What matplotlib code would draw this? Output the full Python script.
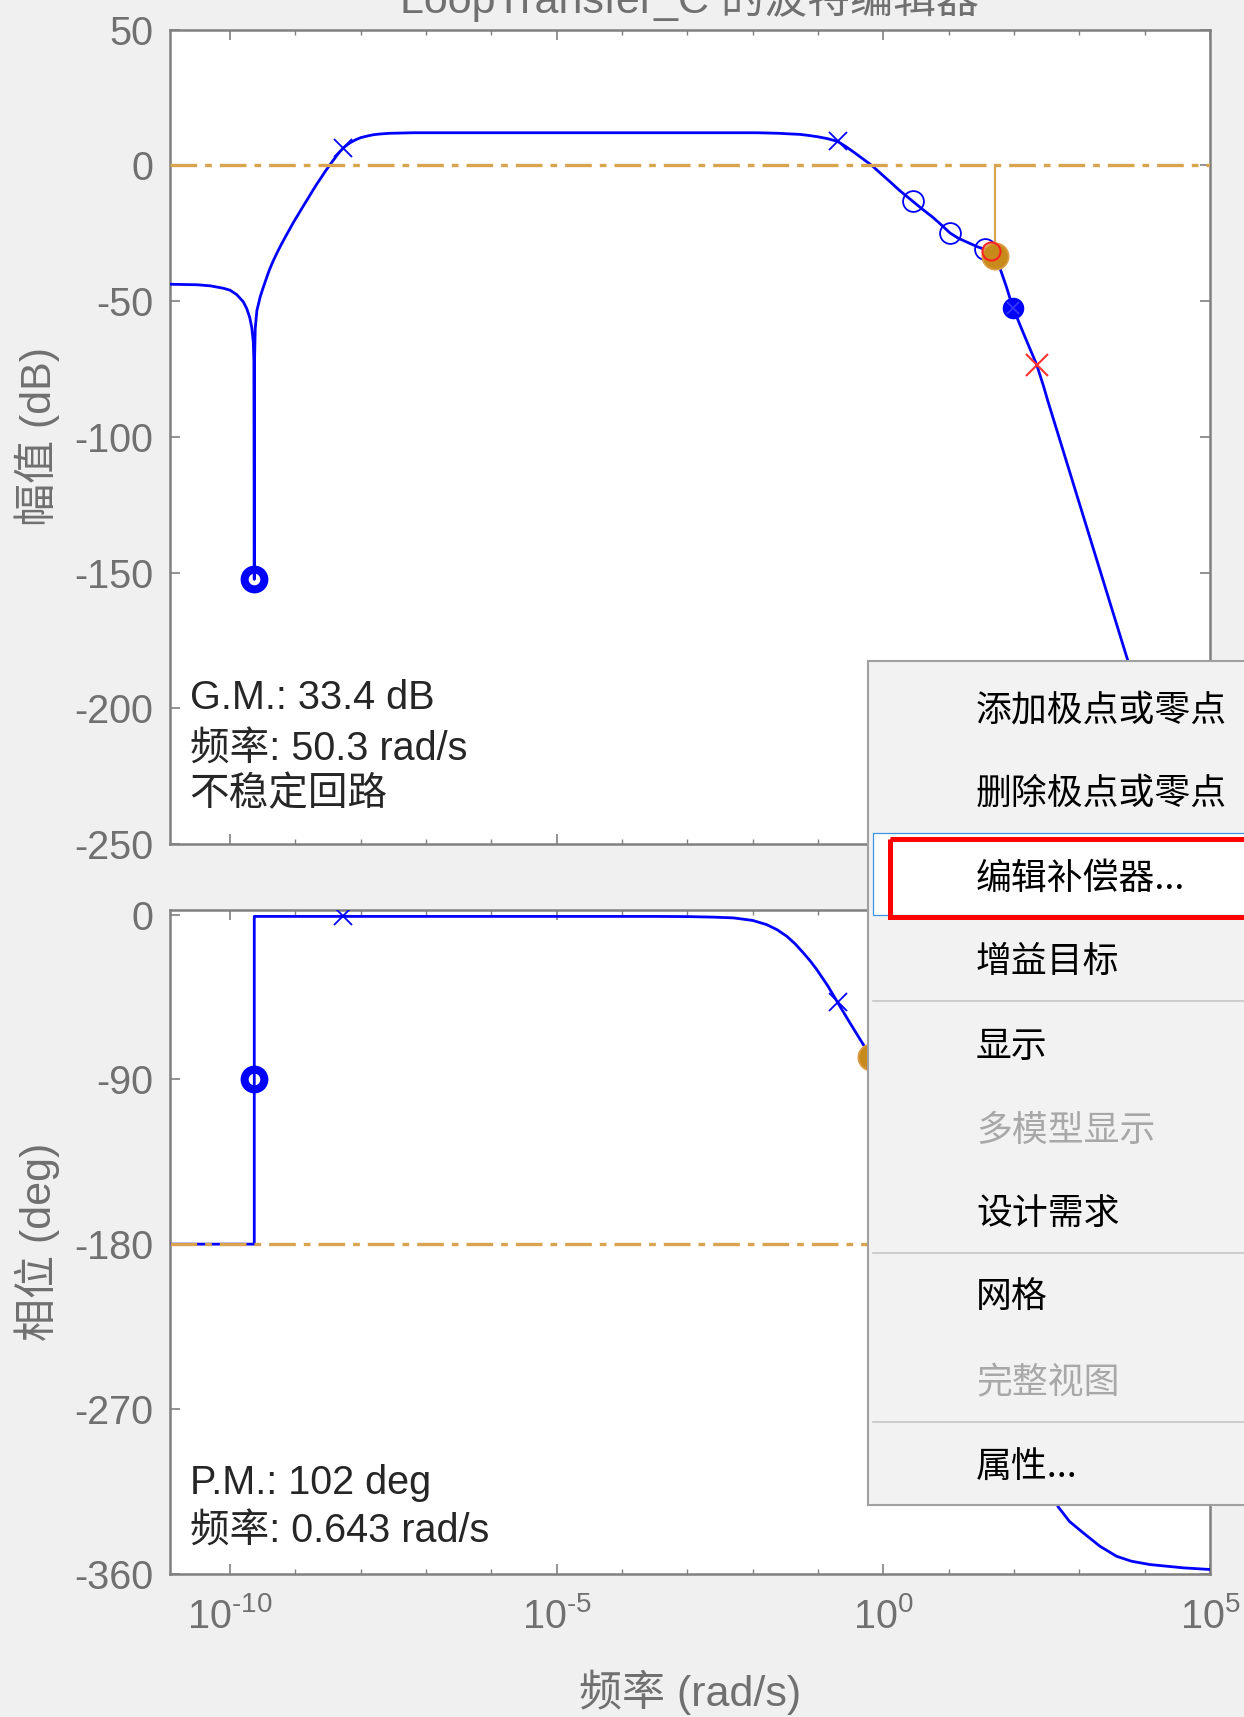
import numpy as np
import matplotlib
matplotlib.use('Agg')
import matplotlib.pyplot as plt
from matplotlib.patches import Rectangle
from matplotlib.ticker import FixedLocator, FixedFormatter, NullFormatter

plt.rcParams['font.family'] = ['Liberation Sans', 'Noto Sans CJK SC']
plt.rcParams['mathtext.fontset'] = 'custom'
plt.rcParams['mathtext.rm'] = 'Liberation Sans'
plt.rcParams['mathtext.it'] = 'Liberation Sans:italic'
plt.rcParams['mathtext.bf'] = 'Liberation Sans:bold'
plt.rcParams['axes.unicode_minus'] = False

# open-loop magnitude (log10 of rad/s, dB)
mag_logw = [-10.92, -10.5, -10.3, -10.1, -10.0, -9.9, -9.8, -9.745, -9.70, -9.668,
            -9.645, -9.636, -9.630, -9.626, -9.615, -9.59, -9.56, -9.54, -9.50, -9.45,
            -9.40, -9.34, -9.285, -9.22, -9.15, -9.09, -9.03, -8.95, -8.88, -8.80,
            -8.735, -8.67, -8.60, -8.54, -8.478, -8.42, -8.37, -8.32, -8.266, -8.20,
            -8.15, -8.08, -8.0, -7.9, -7.8, -7.7, -7.56, -7.2, -5.0, -3.0,
            -1.93, -1.75, -1.6, -1.45, -1.276, -1.14, -1.0, -0.85, -0.70, -0.58,
            -0.45, -0.32, -0.179, -0.05, 0.1, 0.25, 0.453, 0.6, 0.75, 0.9,
            1.019, 1.15, 1.3, 1.43, 1.555, 1.64, 1.7016, 1.785, 1.88, 1.984,
            2.15, 2.346, 2.45, 2.519, 3.0, 3.744, 4.2]
mag_db = [-43.8, -44.0, -44.4, -45.3, -46.0, -47.6, -50.2, -52.8, -56.0, -59.8,
          -65.0, -72.0, -152.5, -72.0, -60.0, -53.5, -50.5, -48.5, -45.5, -42.0,
          -38.6, -35.2, -32.4, -29.3, -26.2, -23.6, -21.0, -17.8, -15.0, -11.9,
          -9.3, -6.8, -4.3, -2.1, 0.0, 1.9, 3.5, 5.0, 6.4, 7.7,
          8.5, 9.4, 10.2, 10.8, 11.3, 11.55, 11.8, 12.0, 12.0, 12.0,
          12.0, 11.9, 11.8, 11.6, 11.4, 11.0, 10.5, 9.8, 8.8, 7.0,
          4.8, 2.5, 0.0, -2.8, -6.0, -9.3, -13.3, -16.2, -19.0, -22.2,
          -24.9, -26.9, -28.5, -29.9, -31.0, -32.0, -33.4, -37.9, -44.5, -52.5,
          -62.2, -73.4, -81.2, -86.9, -124.5, -182.6, -218.0]

# open-loop phase (log10 of rad/s, deg)
phase_logw = [-10.92, -9.630, -9.630, -8.266, -5.0, -3.5, -3.0, -2.6, -2.297, -2.0,
              -1.786, -1.63, -1.48, -1.35, -1.226, -1.12, -1.02, -0.85, -0.70, -0.511,
              -0.307, -0.192, 0.3, 0.8, 1.3, 1.7016, 2.1, 2.4, 2.672, 2.85,
              3.06, 3.315, 3.57, 3.8, 4.08, 4.59, 5.0]
phase_deg = [-180, -180, -1, -1, -1, -1, -1.1, -1.4, -1.8, -3.2,
             -5.5, -8.2, -11.8, -16.0, -20.9, -25.3, -30.0, -39.0, -48.0, -59.2,
             -71.0, -78.0, -115, -150, -170, -180, -230, -280, -323.3, -331.5,
             -337.7, -345.0, -350.5, -353.2, -355.0, -356.8, -357.7]

# plant poles / zeros shown on the curves
pole_logw = [-8.266, -0.70]
pole_db = [6.4, 8.8]
pole_deg = [-1, -48]
zero_logw = [0.453, 1.019, 1.555]
zero_db = [-13.3, -24.9, -31.0]
notch_logw = -9.63
notch_db = -152.5
notch_deg = -90
pz_logw = 1.984
pz_db = -52.5
# compensator poles / zeros (red)
comp_zero_logw = 1.655
comp_zero_db = -31.7
comp_pole_logw = 2.346
comp_pole_db = -73.4
# stability margins
gm_freq = 50.3
gm_db = -33.4
pm_freq = 0.643
pm_deg = -78

mag_ticks = [50, 0, -50, -100, -150, -200, -250]
phase_ticks = [0, -90, -180, -270, -360]
decade_major = [1e-10, 1e-5, 1e0, 1e5]
decade_labels = ['10^{\u201010}', '10^{\u20105}', '10^{0}', '10^{5}']
decade_minor = [10.0 ** k for k in range(-10, 6)]

menu_items = ['添加极点或零点', '删除极点或零点', '编辑补偿器...', '增益目标', '显示',
              '多模型显示', '设计需求', '网格', '完整视图', '属性...']
menu_enabled = [True, True, True, True, True, False, True, True, False, True]
menu_rows = [710, 794, 879, 962, 1047, 1131, 1215, 1298, 1383, 1468]
menu_separators = [1001, 1253, 1422]

W, H = 1244, 1717
BLUE = '#0000ff'
ORANGE = '#d9a44f'
ORANGE_DOT = '#c98a1c'
AXC = '#808080'
TXT = '#707070'

fig = plt.figure(figsize=(W / 100, H / 100), dpi=100, facecolor='#f0f0f0')
ax_mag = fig.add_axes([170 / W, 1 - 844 / H, 1040 / W, (844 - 29.6) / H])
ax_ph = fig.add_axes([170 / W, 1 - 1573.7 / H, 1040 / W, (1573.7 - 910) / H])

for ax in (ax_mag, ax_ph):
    ax.set_xscale('log')
    ax.set_xlim(10 ** -10.92, 1e5)
    ax.set_facecolor('white')
    for s in ax.spines.values():
        s.set_color(AXC)
        s.set_linewidth(1.8)
    ax.xaxis.set_major_locator(FixedLocator(decade_major))
    ax.xaxis.set_major_formatter(FixedFormatter(['$\\mathdefault{%s}$' % t for t in decade_labels]))
    ax.xaxis.set_minor_locator(FixedLocator(decade_minor))
    ax.xaxis.set_minor_formatter(NullFormatter())
    ax.tick_params(which='both', direction='in', top=True, right=True,
                   color=AXC, labelcolor=TXT, labelsize=28.5)
    ax.tick_params(which='major', length=7, width=1.2, pad=12)
    ax.tick_params(which='minor', length=3.5, width=1.0)
    ax.tick_params(axis='x', which='major', pad=17)
ax_mag.tick_params(labelbottom=False)

ax_mag.set_ylim(-250, 50)
ax_mag.set_yticks(mag_ticks)
ax_ph.set_ylim(-360, 2.5)
ax_ph.set_yticks(phase_ticks)

# magnitude
ax_mag.plot(np.power(10.0, mag_logw), mag_db, color=BLUE, lw=2.0, zorder=3)
ax_mag.axhline(0, color=ORANGE, lw=2.4, dashes=(8, 2.4, 2, 2.4), zorder=4)
ax_mag.plot([gm_freq, gm_freq], [0, gm_db], color=ORANGE, lw=1.6, zorder=4)
ax_mag.plot(np.power(10.0, pole_logw), pole_db, 'x', color=BLUE, ms=12.5, mew=1.3, zorder=5)
ax_mag.plot(np.power(10.0, zero_logw), zero_db, 'o', mfc='none', mec=BLUE, ms=15, mew=1.3, zorder=5)
ax_mag.plot(10 ** notch_logw, notch_db, 'o', mfc='none', mec=BLUE, ms=14.2, mew=5.8, zorder=5)
ax_mag.plot(10 ** pz_logw, pz_db, 'o', mfc=BLUE, mec=BLUE, ms=14.5, zorder=5)
ax_mag.plot(10 ** pz_logw, pz_db, 'x', color='#3a3aff', ms=9, mew=1.2, zorder=5)
ax_mag.plot(gm_freq, gm_db, 'o', mfc=ORANGE_DOT, mec='#dca04a', ms=19, mew=1.2, zorder=6)
ax_mag.plot(10 ** comp_zero_logw, comp_zero_db, 'o', mfc='none', mec='#ff2020', ms=13, mew=1.5, zorder=7)
ax_mag.plot(10 ** comp_pole_logw, comp_pole_db, 'x', color='#ff3030', ms=16, mew=1.5, zorder=7)

# phase
ax_ph.plot(np.power(10.0, phase_logw), phase_deg, color=BLUE, lw=2.0, zorder=3)
ax_ph.axhline(-180, color=ORANGE, lw=2.4, dashes=(8, 2.4, 2, 2.4), zorder=4)
ax_ph.plot(np.power(10.0, pole_logw), pole_deg, 'x', color=BLUE, ms=12.5, mew=1.3, zorder=5)
ax_ph.plot(10 ** notch_logw, notch_deg, 'o', mfc='none', mec=BLUE, ms=14.2, mew=5.8, zorder=5)
ax_ph.plot(pm_freq, pm_deg, 'o', mfc=ORANGE_DOT, mec='#dca04a', ms=19, mew=1.2, zorder=6)

txt_kw = dict(fontsize=28.5, color='#262626', va='center', ha='left')
ax_mag.text(0.0188, 0.1790, 'G.M.: 33.4 dB', transform=ax_mag.transAxes, **txt_kw)
ax_mag.text(0.0188, 0.1176, '频率: 50.3 rad/s', transform=ax_mag.transAxes, **txt_kw)
ax_mag.text(0.0188, 0.0611, '不稳定回路', transform=ax_mag.transAxes, **txt_kw)
ax_ph.text(0.0188, 0.1362, 'P.M.: 102 deg', transform=ax_ph.transAxes, **txt_kw)
ax_ph.text(0.0188, 0.0653, '频率: 0.643 rad/s', transform=ax_ph.transAxes, **txt_kw)

ax_mag.set_ylabel('幅值 (dB)', fontsize=31, color=TXT, va='center')
ax_mag.yaxis.set_label_coords(-0.1278, 0.5)
ax_ph.set_ylabel('相位 (deg)', fontsize=31, color=TXT, va='center')
ax_ph.yaxis.set_label_coords(-0.1278, 0.5)
ax_ph.set_xlabel('频率 (rad/s)', fontsize=31, color=TXT, va='center')
ax_ph.xaxis.set_label_coords(0.5, -0.178)

fig.text(690 / W, 1 - 13 / H, 'LoopTransfer_C 的波特编辑器', fontsize=31,
         color=TXT, ha='center', va='baseline')

# right-click context menu drawn over the plot
menu = fig.add_axes([868 / W, 1 - 1505 / H, (1300 - 868) / W, (1505 - 661) / H], zorder=10)
menu.set_xlim(868, 1300)
menu.set_ylim(1505, 661)
menu.set_facecolor('#f2f2f2')
menu.set_xticks([])
menu.set_yticks([])
for s in menu.spines.values():
    s.set_color('#a0a0a0')
    s.set_linewidth(1.5)
menu.add_patch(Rectangle((873, 833), 500, 82, facecolor='white', edgecolor='#3b94e6', lw=0.9))
menu.add_patch(Rectangle((890, 839.5), 500, 77.5, fill=False, edgecolor='#ff0000', lw=3.6))
for y in menu_separators:
    menu.plot([873, 1300], [y, y], color='#c6c6c6', lw=1.2)
for label, ok, y in zip(menu_items, menu_enabled, menu_rows):
    menu.text(976, y, label, fontsize=25.8, family=['Noto Sans CJK SC'],
              color='#000000' if ok else '#a8a8a8', ha='left', va='center')

fig.savefig('out.png', dpi=100, facecolor=fig.get_facecolor())
